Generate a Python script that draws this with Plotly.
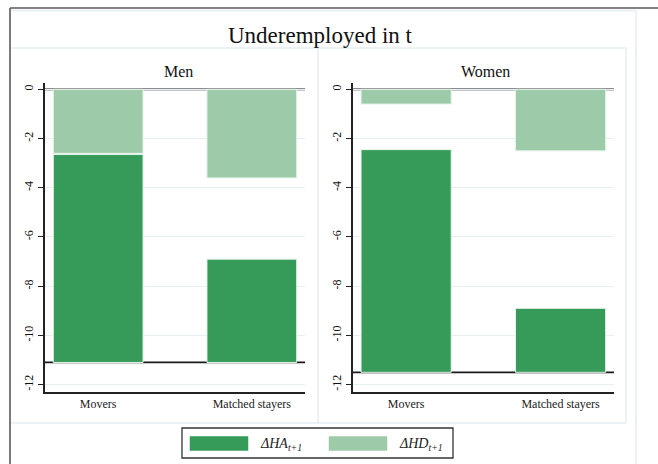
import plotly.graph_objects as go

# ---- data -------------------------------------------------------------
categories = ["Movers", "Matched stayers"]
cat_pos = [1, 2]
panel_names = ["Men", "Women"]

# total change and its two components (hours adjustment / hours decomposition)
total_men = [-11.1, -11.1]
ha_men = [-8.45, -4.2]
hd_men = [-2.6, -3.6]

total_women = [-11.5, -11.5]
ha_women = [-9.05, -2.6]
hd_women = [-0.6, -2.5]

y_ticks = [0, -2, -4, -6, -8, -10, -12]
y_tick_text = ["0", "-2", "-4", "-6", "-8", "-10", "-12"]

# ---- styling ----------------------------------------------------------
W, H = 658, 464
DARK = "#369a59"
LIGHT = "#9dcbaa"
FRAME = "#e4edf1"
SERIF = "Liberation Serif, Times New Roman, serif"


def fx(px):
    return px / W


def fy(py):
    return 1 - py / H


fig = go.Figure()

panels = [
    ("x", "y", total_men, ha_men, hd_men),
    ("x2", "y2", total_women, ha_women, hd_women),
]

for xa, ya, total, ha, hd in panels:
    # HA component: drawn up from the total change
    fig.add_trace(go.Bar(
        x=cat_pos, y=[-v for v in ha], base=total,
        xaxis=xa, yaxis=ya, width=0.584,
        marker=dict(color=DARK, line=dict(color="#e6f3ea", width=1)),
        showlegend=False, name="ΔHA",
    ))
    # HD component: drawn down from zero
    fig.add_trace(go.Bar(
        x=cat_pos, y=hd, base=[0] * len(hd),
        xaxis=xa, yaxis=ya, width=0.584,
        marker=dict(color=LIGHT, line=dict(color="#e6f3ea", width=1)),
        showlegend=False, name="ΔHD",
    ))
    # reference lines at zero and at the total change
    for level in [0, total[0]]:
        fig.add_shape(type="line", xref=f"{xa} domain", yref=ya,
                      x0=0, x1=1, y0=level, y1=level, layer="below",
                      line=dict(color="#1a1a1a", width=1.8))

x_range = [0.654, 2.346]
y_range = [-12.3, 0.27]
y_dom = [fy(392), fy(82.7)]

common_x = dict(range=x_range, tickvals=cat_pos, ticktext=categories,
                showline=True, linecolor="#222", linewidth=1.5, ticks="",
                showgrid=False, zeroline=False, fixedrange=True,
                tickfont=dict(family=SERIF, size=12, color="#222"))
common_y = dict(range=y_range, tickvals=y_ticks, ticktext=y_tick_text,
                showline=True, linecolor="#222", linewidth=1.5,
                ticks="outside", ticklen=5, tickwidth=1.3, tickcolor="#222",
                showgrid=True, gridcolor="#e6eff2", gridwidth=1,
                zeroline=False, tickangle=-90, fixedrange=True,
                tickfont=dict(family=SERIF, size=12, color="#111"))

fig.update_layout(
    width=W, height=H, autosize=False,
    margin=dict(l=0, r=0, t=0, b=0),
    paper_bgcolor="white", plot_bgcolor="white",
    barmode="overlay", showlegend=False,
    xaxis=dict(domain=[fx(45), fx(305)], anchor="y", **common_x),
    yaxis=dict(domain=y_dom, anchor="x", **common_y),
    xaxis2=dict(domain=[fx(352.7), fx(614)], anchor="y2", **common_x),
    yaxis2=dict(domain=y_dom, anchor="x2", **common_y),
)

# ---- frames ------------------------------------------------------------
def pline(x0, y0, x1, y1, color, width):
    fig.add_shape(type="line", xref="paper", yref="paper",
                  x0=fx(x0), y0=fy(y0), x1=fx(x1), y1=fy(y1),
                  line=dict(color=color, width=width))

# outer dark frame (top and left)
pline(10, 8, 658, 8, "#5a5a5a", 1.6)
pline(10, 8, 10, 464, "#5a5a5a", 1.6)
# light graph-region frame
pline(11, 10.5, 636, 10.5, FRAME, 1.5)
pline(636, 10.5, 636, 464, FRAME, 1.5)
# panel boxes
pline(11, 48, 626, 48, FRAME, 1.5)
pline(11, 423, 626, 423, FRAME, 1.5)
pline(626, 48, 626, 423, FRAME, 1.5)
pline(318, 48, 318, 423, FRAME, 1.5)

# ---- titles ------------------------------------------------------------
fig.add_annotation(text="Underemployed in t", x=fx(320), y=fy(35),
                   xref="paper", yref="paper", showarrow=False,
                   xanchor="center", yanchor="middle",
                   font=dict(family=SERIF, size=23, color="#111"))
for name, cx in zip(panel_names, [178, 485]):
    fig.add_annotation(text=name, x=fx(cx), y=fy(72),
                       xref="paper", yref="paper", showarrow=False,
                       xanchor="center", yanchor="middle",
                       font=dict(family=SERIF, size=16, color="#111"))

# ---- legend ------------------------------------------------------------
fig.add_shape(type="rect", xref="paper", yref="paper",
              x0=fx(182), x1=fx(453), y0=fy(458), y1=fy(428),
              line=dict(color="#333", width=1.3), fillcolor="white")
legend_items = [
    (DARK, "<i>ΔHA</i><sub><i>t+1</i></sub>", 190, 248, 258),
    (LIGHT, "<i>ΔHD</i><sub><i>t+1</i></sub>", 329, 387, 397),
]
for color, label, s0, s1, tx in legend_items:
    fig.add_shape(type="rect", xref="paper", yref="paper",
                  x0=fx(s0), x1=fx(s1), y0=fy(450.5), y1=fy(436.5),
                  line=dict(color=color, width=0.5), fillcolor=color)
    fig.add_annotation(text=label, x=fx(tx), y=fy(444),
                       xref="paper", yref="paper", showarrow=False,
                       xanchor="left", yanchor="middle",
                       font=dict(family=SERIF, size=14, color="#222"))

fig.write_html("out.html")
